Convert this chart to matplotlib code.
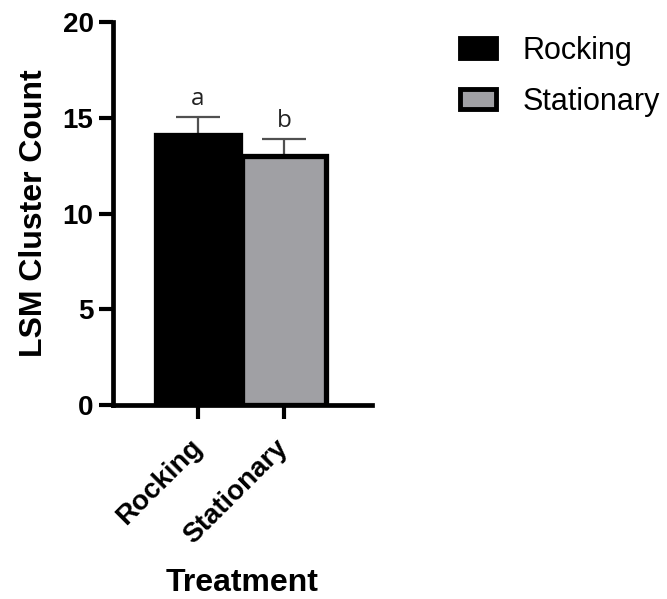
import matplotlib
matplotlib.use('Agg')
import matplotlib.pyplot as plt
from matplotlib.patches import Patch

plt.rcParams['font.family'] = ['Liberation Sans', 'DejaVu Sans']

# data
treatments = ['Rocking', 'Stationary']
means = [14.1, 13.0]
errors = [0.95, 0.9]
letters = ['a', 'b']
bar_colors = ['#000000', '#A0A0A4']

fig = plt.figure(figsize=(6.67, 5.99), dpi=100)
ax = fig.add_axes([0.1694, 0.3239, 0.388, 0.639])

x = range(len(treatments))
ax.bar(x, means, width=0.97, color=bar_colors, edgecolor='black', linewidth=3.8, zorder=3)
ax.errorbar(x, means, yerr=[[0, 0], errors], fmt='none', ecolor='#505050',
            elinewidth=1.6, capsize=15.5, capthick=1.6, zorder=2)

# significance letters above the error bars
for xi, m, e, lab in zip(x, means, errors, letters):
    ax.text(xi, m + e + 0.65, lab, ha='center', va='baseline', fontsize=17.5,
            family='Open Sans', color='#222222')

ax.set_xlim(-0.99, 2.02)
ax.set_ylim(0, 20)
ax.set_yticks([0, 5, 10, 15, 20])
ax.set_xticks(list(x))
ax.set_xticklabels(treatments, rotation=45, ha='right', va='center',
                   rotation_mode='anchor', fontsize=20, fontweight='bold')
for lbl in ax.get_yticklabels():
    lbl.set_fontweight('bold')
    lbl.set_fontsize(20)

for s in ['top', 'right']:
    ax.spines[s].set_visible(False)
for s in ['left', 'bottom']:
    ax.spines[s].set_linewidth(3.4)
    ax.spines[s].set_capstyle('projecting')
ax.tick_params(axis='both', width=3, length=10, pad=4)
ax.tick_params(axis='x', pad=18)

ax.set_ylabel('LSM Cluster Count', fontsize=23, fontweight='bold', labelpad=10)
ax.set_xlabel('Treatment', fontsize=23, fontweight='bold', labelpad=14)

handles = [Patch(facecolor=c, edgecolor='black', linewidth=3.5) for c in bar_colors]
fig.legend(handles, treatments, loc='upper left', bbox_to_anchor=(0.689, 0.94),
           frameon=False, fontsize=22, handlelength=1.2, handleheight=0.6,
           labelspacing=0.68, handletextpad=0.85, borderaxespad=0, borderpad=0)

fig.savefig('out.png', dpi=100, facecolor='white')
